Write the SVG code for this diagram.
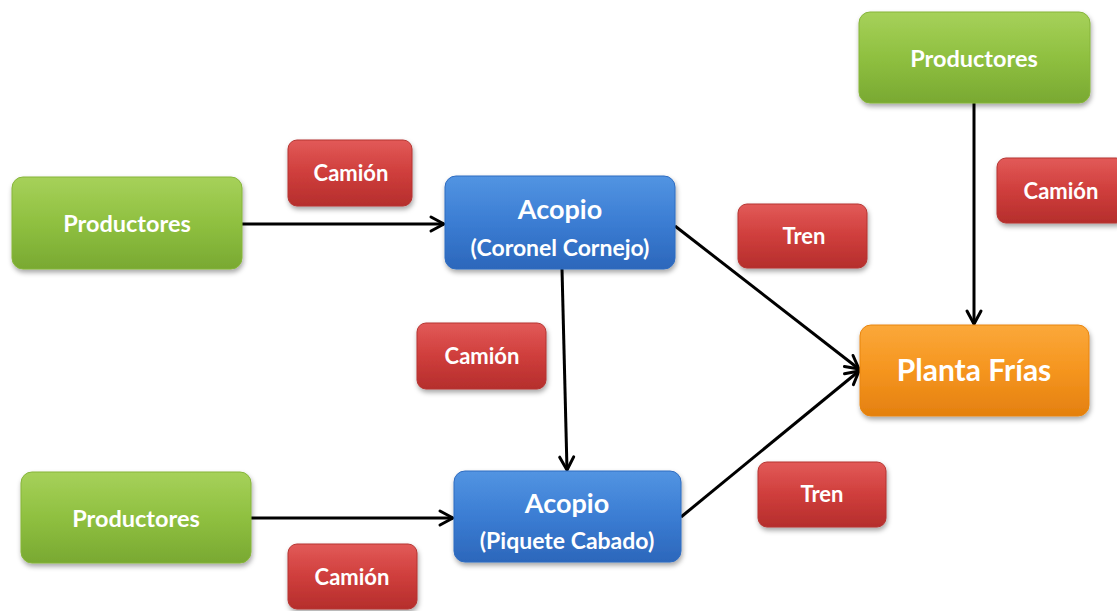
<svg xmlns="http://www.w3.org/2000/svg" width="1117" height="611" viewBox="0 0 1117 611">
<defs>
<linearGradient id="gGreen" x1="0" y1="0" x2="0" y2="1"><stop offset="0" stop-color="#a6d15a"/><stop offset="0.5" stop-color="#8fc040"/><stop offset="1" stop-color="#79a932"/></linearGradient>
<linearGradient id="gBlue" x1="0" y1="0" x2="0" y2="1"><stop offset="0" stop-color="#5294e2"/><stop offset="0.5" stop-color="#3b7dd3"/><stop offset="1" stop-color="#2c67bb"/></linearGradient>
<linearGradient id="gRed" x1="0" y1="0" x2="0" y2="1"><stop offset="0" stop-color="#e25a58"/><stop offset="0.5" stop-color="#cf3e3c"/><stop offset="1" stop-color="#b52e2c"/></linearGradient>
<linearGradient id="gOrange" x1="0" y1="0" x2="0" y2="1"><stop offset="0" stop-color="#fba83a"/><stop offset="0.5" stop-color="#f5951f"/><stop offset="1" stop-color="#e4800f"/></linearGradient>
<filter id="sh" x="-10%" y="-10%" width="125%" height="135%"><feDropShadow dx="1" dy="3" stdDeviation="2.5" flood-color="#000" flood-opacity="0.35"/></filter>
<marker id="arr" viewBox="0 0 20 20" refX="17" refY="10" markerWidth="20" markerHeight="20" markerUnits="userSpaceOnUse" orient="auto">
<path d="M4,3 L17,10 L4,17" fill="none" stroke="#000" stroke-width="3" stroke-linecap="round" stroke-linejoin="round"/>
</marker>
</defs>
<style>
.box{filter:url(#sh);}
.green{fill:url(#gGreen);stroke:#86b53a;stroke-width:1;}
.blue{fill:url(#gBlue);stroke:#2f6cc0;stroke-width:1;}
.red{fill:url(#gRed);stroke:#b53431;stroke-width:1;}
.orange{fill:url(#gOrange);stroke:#e8850f;stroke-width:1;}
text{font-family:Lato,"Open Sans","Liberation Sans",sans-serif;font-weight:bold;fill:#fff;text-anchor:middle;}
.t20{font-size:23.5px;}
.t18{font-size:22px;}
.big{font-size:27px;}
.sub{font-size:23px;}
.pf{font-size:30px;}
.conn{stroke:#000;stroke-width:3;fill:none;marker-end:url(#arr);}
</style>
<rect width="1117" height="611" fill="#fff"/>
<g id="connectors">
<line class="conn" x1="242" y1="224" x2="444" y2="224"/>
<line class="conn" x1="251" y1="518" x2="453" y2="518"/>
<line class="conn" x1="562" y1="269" x2="567" y2="470"/>
<line class="conn" x1="675" y1="226" x2="859" y2="369"/>
<line class="conn" x1="681" y1="517" x2="859" y2="371"/>
<line class="conn" x1="974" y1="103" x2="974" y2="324"/>
</g>
<g id="prod1"><rect class="box green" x="12" y="177" width="230" height="92" rx="11"/><text class="t20" x="127" y="232">Productores</text></g>
<g id="prod2"><rect class="box green" x="21" y="472" width="230" height="91" rx="11"/><text class="t20" x="136" y="527">Productores</text></g>
<g id="prod3"><rect class="box green" x="859" y="12" width="231" height="91" rx="11"/><text class="t20" x="974" y="67">Productores</text></g>
<g id="acopio1"><rect class="box blue" x="445" y="176" width="230" height="93" rx="11"/><text class="big" x="560" y="219">Acopio</text><text class="sub" x="560" y="256">(Coronel Cornejo)</text></g>
<g id="acopio2"><rect class="box blue" x="454" y="471" width="227" height="91" rx="11"/><text class="big" x="567" y="513">Acopio</text><text class="sub" x="567" y="549">(Piquete Cabado)</text></g>
<g id="planta"><rect class="box orange" x="860" y="325" width="229" height="91" rx="11"/><text class="pf" x="974" y="381">Planta Frías</text></g>
<g id="camion1"><rect class="box red" x="288" y="140" width="124" height="66" rx="9"/><text class="t18" x="351" y="181">Camión</text></g>
<g id="camion2"><rect class="box red" x="417" y="323" width="129" height="66" rx="9"/><text class="t18" x="482" y="364">Camión</text></g>
<g id="camion3"><rect class="box red" x="997" y="158" width="128" height="65" rx="9"/><text class="t18" x="1061" y="199">Camión</text></g>
<g id="camion4"><rect class="box red" x="288" y="544" width="129" height="65" rx="9"/><text class="t18" x="352" y="585">Camión</text></g>
<g id="tren1"><rect class="box red" x="738" y="204" width="129" height="64" rx="9"/><text class="t18" x="804" y="244">Tren</text></g>
<g id="tren2"><rect class="box red" x="758" y="462" width="128" height="65" rx="9"/><text class="t18" x="822" y="502">Tren</text></g>
</svg>
